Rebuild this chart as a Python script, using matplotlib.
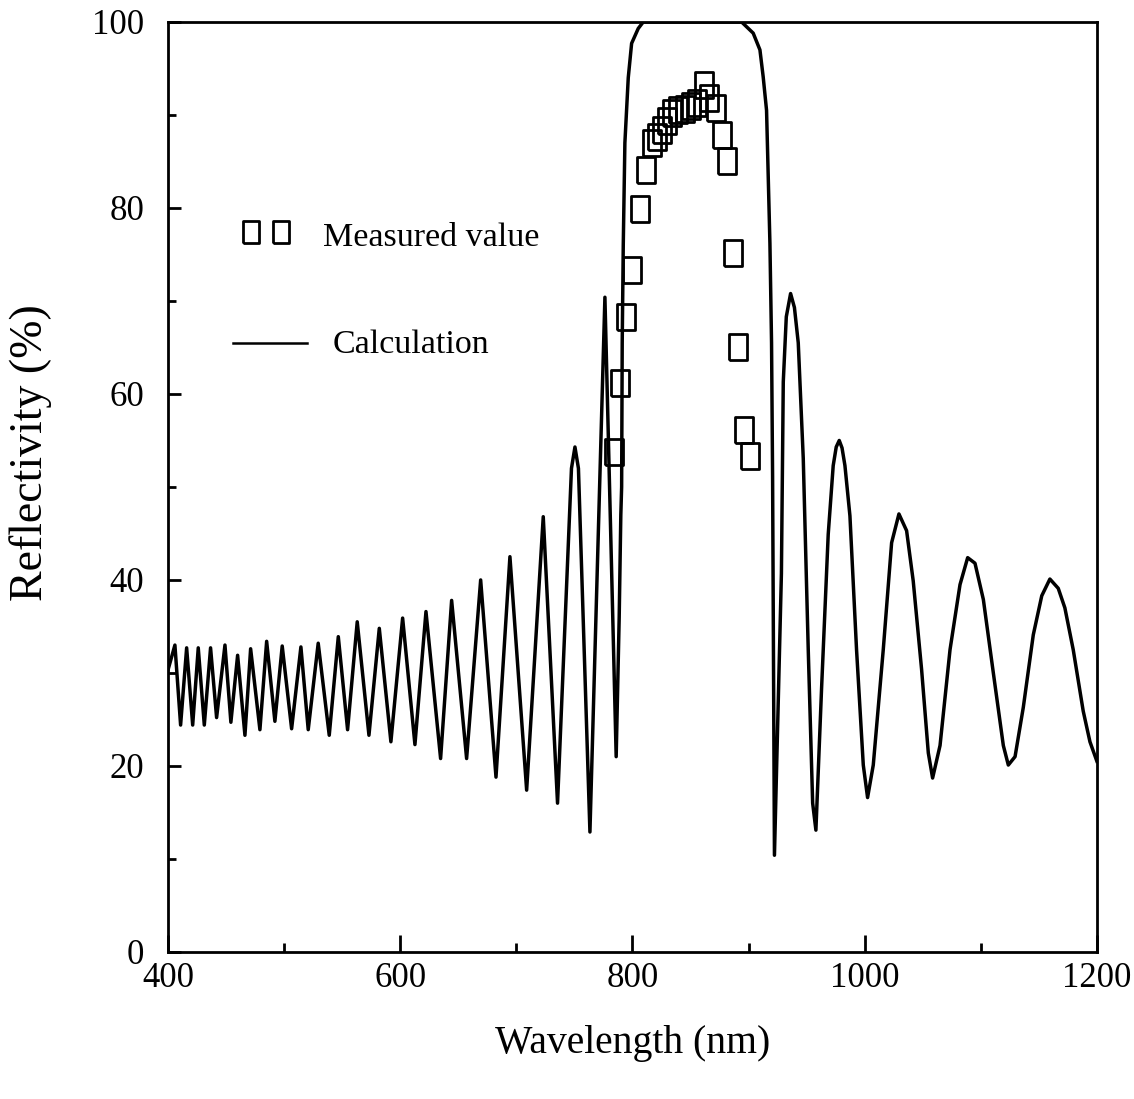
import numpy as np
import matplotlib
matplotlib.use("Agg")
import matplotlib.pyplot as plt
import matplotlib.ticker as ticker

plt.rcParams.update({
    "font.family": "Liberation Serif",
    "font.size": 25,
})

# ── Data ─────────────────────────────────────────────────────────────────────
# calculated reflectivity spectrum (nm, %)
calc_nm = [400.0, 406.0, 410.9, 416.1, 421.3, 426.1, 431.3, 436.7, 441.9, 449.1,
           454.2, 460.0, 466.3, 471.2, 479.2, 485.0, 492.1, 498.4, 506.5, 514.5,
           520.8, 529.4, 538.9, 546.7, 554.7, 563.0, 573.1, 582.0, 592.0, 602.1,
           612.7, 622.2, 634.8, 644.3, 657.2, 669.3, 682.5, 694.5, 708.9, 723.2,
           735.5, 747.5, 750.5, 753.5, 763.4, 776.3, 786.0, 788.6, 790.0, 790.7,
           791.2, 792.1, 793.5, 796.4, 799.3, 805.0, 809.3, 894.0, 904.0, 909.8,
           912.6, 915.5, 918.4, 919.8, 920.7, 922.3, 928.3, 929.9, 932.5, 936.2,
           939.5, 942.8, 947.1, 951.4, 955.2, 958.0, 962.9, 968.6, 972.9, 975.5,
           978.1, 980.5, 983.0, 987.3, 993.0, 998.8, 1002.5, 1007.4, 1016.0, 1023.2,
           1029.5, 1036.1, 1041.8, 1049.0, 1054.8, 1058.5, 1064.9, 1073.5, 1082.1, 1088.7,
           1095.0, 1102.2, 1110.8, 1119.4, 1123.7, 1129.5, 1136.6, 1145.2, 1152.5, 1159.5,
           1166.7, 1172.4, 1179.6, 1188.2, 1194.0, 1200.0]
calc_r = [30.3, 33.0, 24.4, 32.7, 24.4, 32.7, 24.4, 32.7, 25.2, 33.0,
          24.7, 31.9, 23.3, 32.6, 23.9, 33.4, 24.8, 32.9, 24.0, 32.8,
          23.9, 33.2, 23.3, 33.9, 23.9, 35.5, 23.3, 34.8, 22.6, 35.9,
          22.3, 36.6, 20.8, 37.8, 20.8, 40.0, 18.8, 42.5, 17.4, 46.8,
          16.0, 52.0, 54.3, 52.0, 12.9, 70.4, 21.0, 36.0, 47.0, 50.0,
          65.5, 76.0, 87.0, 94.0, 97.7, 99.3, 100.0, 100.0, 98.8, 97.0,
          94.1, 90.5, 76.2, 65.5, 51.1, 10.4, 40.7, 61.3, 68.3, 70.8,
          69.3, 65.5, 53.1, 32.5, 16.0, 13.1, 28.4, 44.9, 52.3, 54.3,
          55.0, 54.2, 52.3, 46.9, 32.5, 20.1, 16.6, 20.1, 32.5, 44.0,
          47.1, 45.3, 39.9, 30.4, 21.4, 18.7, 22.2, 32.5, 39.5, 42.4,
          41.8, 37.9, 30.0, 22.2, 20.1, 21.0, 26.3, 34.1, 38.3, 40.1,
          39.1, 37.0, 32.5, 25.9, 22.6, 20.5]

# measured reflectivity (nm, %)
meas_nm = [784.1, 789.2, 794.4, 799.8, 806.5, 811.6, 816.5, 821.0, 825.1, 829.4,
           834.3, 839.5, 845.2, 850.5, 856.0, 861.8, 866.1, 871.9, 876.8, 881.1,
           886.8, 891.1, 896.0, 901.2]
meas_r = [53.8, 61.2, 68.3, 73.3, 79.9, 84.1, 87.0, 87.6, 88.4, 89.4,
          90.2, 90.5, 90.6, 91.0, 91.3, 93.2, 91.8, 90.8, 87.8, 85.0,
          75.2, 65.0, 56.1, 53.3]

LINE_LABEL = "Calculation"
MEAS_LABEL = "Measured value"

# tall open rectangle marker
RECT = [(-0.36, -0.5), (0.36, -0.5), (0.36, 0.5), (-0.36, 0.5), (-0.36, -0.5)]

fig = plt.figure(figsize=(11.34, 10.99), dpi=100)
ax = fig.add_axes([0.1481, 0.1338, 0.8192, 0.8462])

ax.plot(calc_nm, calc_r, color="black", lw=2.5, solid_joinstyle="round")
ax.plot(meas_nm, meas_r, linestyle="none", marker=RECT, markersize=18.5,
        markerfacecolor="none", markeredgecolor="black", markeredgewidth=2.0)

# hand-drawn style legend
ax.plot([0.0893, 0.1216], [0.774, 0.774], transform=ax.transAxes, linestyle="none",
        marker=RECT, markersize=16.5, markerfacecolor="none",
        markeredgecolor="black", markeredgewidth=2.0)
ax.text(0.1668, 0.768, MEAS_LABEL, transform=ax.transAxes, va="center", ha="left",
        fontsize=24.5)
ax.plot([0.070, 0.150], [0.655, 0.655], transform=ax.transAxes, color="black", lw=1.8)
ax.text(0.1776, 0.653, LINE_LABEL, transform=ax.transAxes, va="center", ha="left",
        fontsize=24.5)

ax.set_xlim(400, 1200)
ax.set_ylim(0, 100)
ax.xaxis.set_major_locator(ticker.MultipleLocator(200))
ax.xaxis.set_minor_locator(ticker.MultipleLocator(100))
ax.yaxis.set_major_locator(ticker.MultipleLocator(20))
ax.yaxis.set_minor_locator(ticker.MultipleLocator(10))

ax.tick_params(axis="x", which="major", direction="in", length=12, width=2, pad=7,
               labelsize=25)
ax.tick_params(axis="x", which="minor", direction="in", length=6.5, width=2)
ax.tick_params(axis="y", which="major", direction="in", length=9.5, width=2, pad=17,
               labelsize=25)
ax.tick_params(axis="y", which="minor", direction="in", length=6, width=2)

for sp in ax.spines.values():
    sp.set_linewidth(2)

ax.set_xlabel("Wavelength (nm)", fontsize=28.5, labelpad=22)
ax.set_ylabel("Reflectivity (%)", fontsize=33)
ax.yaxis.set_label_coords(-0.125, 0.537)

fig.savefig("out.png", dpi=100)
